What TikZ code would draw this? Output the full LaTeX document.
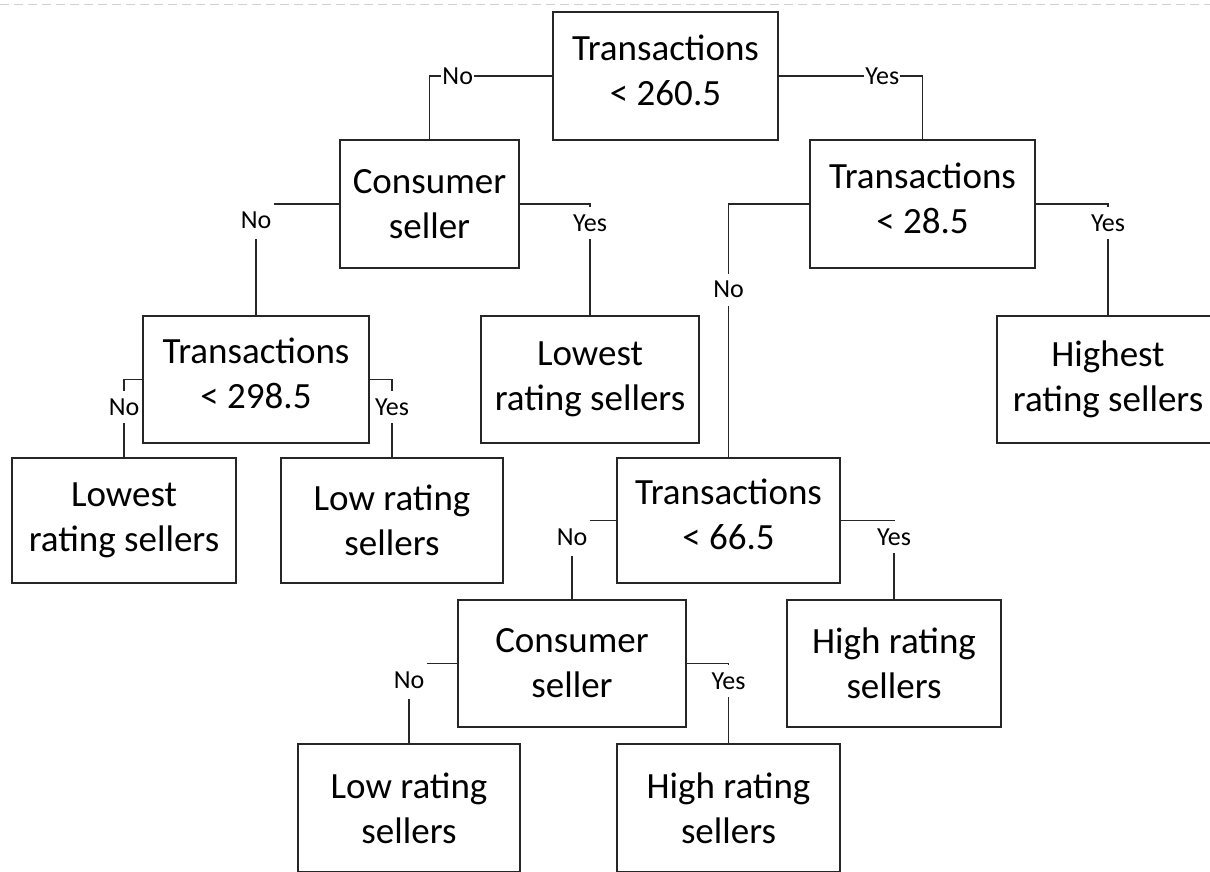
\documentclass[tikz,border=0pt]{standalone}
\usepackage{fontspec}
\setmainfont{Carlito}
\usetikzlibrary{calc}

\begin{document}
\begin{tikzpicture}[x=1pt, y=-1pt, line width=1.5pt,
        box_style/.style={rectangle, draw=black!85, line width=1.8pt, align=center, inner sep=0pt, minimum height=127, font=\fontsize{37}{45}\selectfont},
        test_style/.style={box_style, text depth=12pt},
        edge_style/.style={draw=black!85, line width=1.5pt, -},
        label_style/.style={fill=white, inner sep=1pt, minimum height=32, font=\fontsize{26}{30}\selectfont},
        corner_label_style/.style={label_style, minimum height=38, minimum width=36}]

        \useasboundingbox (0,0) rectangle (1210,871);
        \clip (0,0) rectangle (1210,871);
        \draw [gray!35, line width=1pt, dash pattern=on 9pt off 5pt] (0,4) -- (1210,4);

        \node [test_style, minimum width=225, minimum height=128](n1) at (665.5,76) {Transactions\\< 260.5};
        \node [box_style, minimum width=179, minimum height=128](n2) at (429.5,204) {Consumer\\seller};
        \node [test_style, minimum width=225, minimum height=128](n3) at (922.5,204) {Transactions\\< 28.5};
        \node [test_style, minimum width=226](n4) at (256,379.5) {Transactions\\< 298.5};
        \node [box_style, minimum width=218](n5) at (590,379.5) {Lowest\\rating sellers};
        \node [box_style, minimum width=222](n6) at (1108,379.5) {Highest\\rating sellers};
        \node [test_style, minimum width=223, minimum height=125](n7) at (728.5,520.5) {Transactions\\< 66.5};
        \node [box_style, minimum width=224, minimum height=125](n8) at (124,520.5) {Lowest\\rating sellers};
        \node [box_style, minimum width=222, minimum height=125](n9) at (392,520.5) {Low rating\\sellers};
        \node [box_style, minimum width=228](n10) at (572,663.5) {Consumer\\seller};
        \node [box_style, minimum width=214](n11) at (894,663.5) {High rating\\sellers};
        \node [box_style, minimum width=222, minimum height=128](n12) at (409,808) {Low rating\\sellers};
        \node [box_style, minimum width=223, minimum height=128](n13) at (728.5,808) {High rating\\sellers};

        \draw [edge_style] (n1.west) -| node[label_style, pos=0.385]{No} (n2.north);
        \draw [edge_style] (n1.east) -| node[label_style, pos=0.36]{Yes} (n3.north);
        \draw [edge_style] (n2.west) -| node[corner_label_style, pos=0.571]{No} (n4.north);
        \draw [edge_style] (n2.east) -| node[label_style, pos=0.585]{Yes} (n5.north);
        \draw [edge_style] (n3.west) -| node[label_style, pos=0.669]{No} (n7.north);
        \draw [edge_style] (n3.east) -| node[label_style, pos=0.585]{Yes} (n6.north);
        \draw [edge_style] (n4.west) -| node[label_style, pos=0.68]{No} (n8.north);
        \draw [edge_style] (n4.east) -| node[label_style, pos=0.68]{Yes} (n9.north);
        \draw [edge_style] (n7.west) -| node[corner_label_style, pos=0.604]{No} (n10.north);
        \draw [edge_style] (n7.east) -| node[label_style, pos=0.604]{Yes} (n11.north);
        \draw [edge_style] (n10.west) -| node[corner_label_style, pos=0.602]{No} (n12.north);
        \draw [edge_style] (n10.east) -| node[label_style, pos=0.609]{Yes} (n13.north);
        \end{tikzpicture}
\end{document}
